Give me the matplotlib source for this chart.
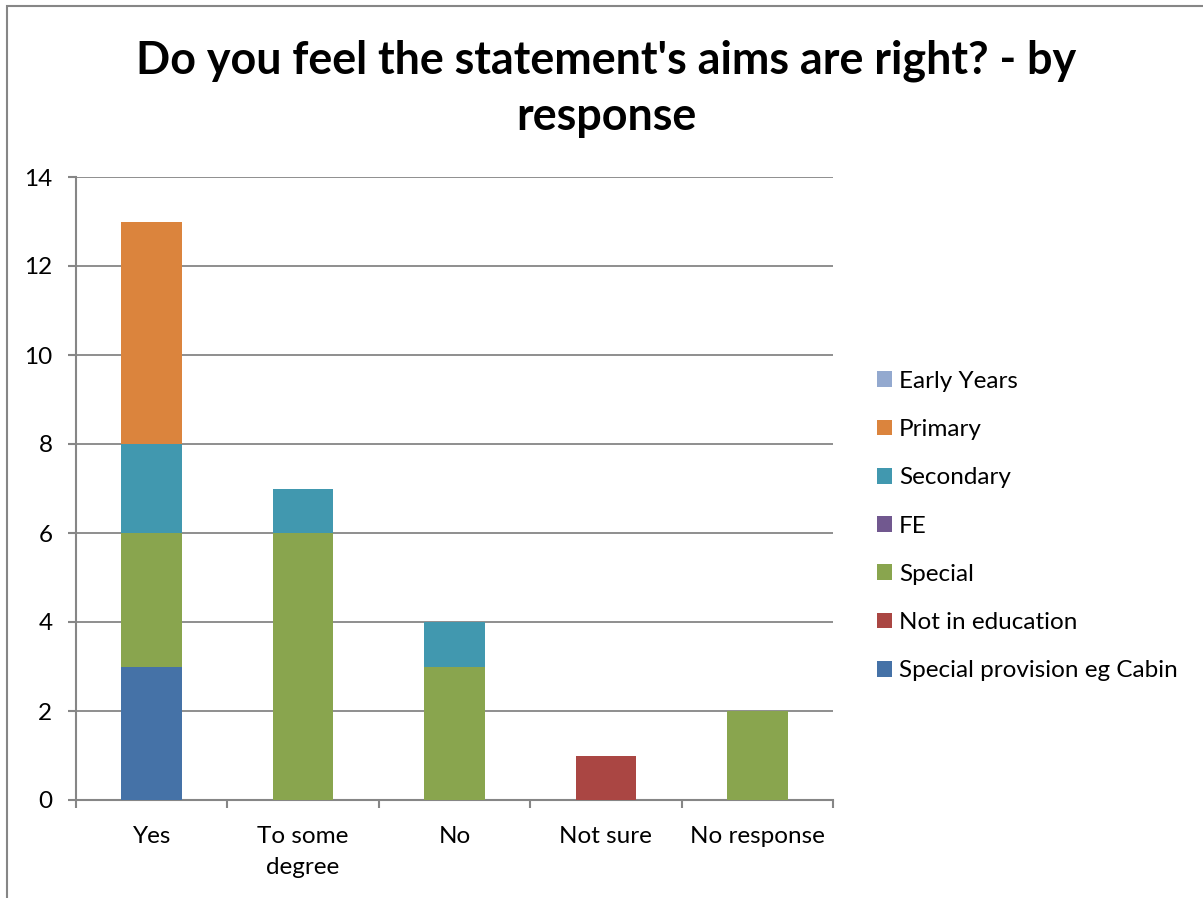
import matplotlib
matplotlib.use("Agg")
import matplotlib.pyplot as plt
from matplotlib.patches import Rectangle, Patch
import numpy as np

plt.rcParams['font.family'] = ['Lato', 'DejaVu Sans']

categories = ["Yes", "To some degree", "No", "Not sure", "No response"]
tick_labels = ["Yes", "To some\ndegree", "No", "Not sure", "No response"]

# series listed bottom-up in stacking order
series_names = ["Special provision eg Cabin", "Not in education", "Special",
                "FE", "Secondary", "Primary", "Early Years"]
special_provision = [3, 0, 0, 0, 0]
not_in_education = [0, 0, 0, 1, 0]
special = [3, 6, 3, 0, 2]
fe = [0, 0, 0, 0, 0]
secondary = [2, 1, 1, 0, 0]
primary = [5, 0, 0, 0, 0]
early_years = [0, 0, 0, 0, 0]

series_values = [special_provision, not_in_education, special, fe,
                 secondary, primary, early_years]
colors = ["#4572A7", "#AA4643", "#89A54E", "#71588F",
          "#4198AF", "#DB843D", "#93A9CF"]

W, H = 1203, 898
fig = plt.figure(figsize=(W / 100, H / 100), dpi=100)

# outer chart frame
fig.add_artist(Rectangle((7 / W, -0.05), 1.2, (H - 6) / H + 0.05,
                         transform=fig.transFigure, fill=False,
                         edgecolor="#868686", linewidth=1.5))

ax = fig.add_axes([76 / W, 98 / H, 757 / W, 623 / H])
x = np.arange(len(categories))
bottom = np.zeros(len(categories))
for name, vals, c in zip(series_names, series_values, colors):
    vals = np.array(vals, dtype=float)
    ax.bar(x, vals, width=0.4, bottom=bottom, color=c, label=name, zorder=3)
    bottom += vals

ax.set_xlim(-0.5, len(categories) - 0.5)
ax.set_ylim(0, 14)
ax.set_yticks(range(0, 15, 2))
ax.yaxis.grid(True, color="#868686", linewidth=1.3, zorder=0)
ax.set_axisbelow(True)

for s in ["top", "right"]:
    ax.spines[s].set_visible(False)
for s in ["left", "bottom"]:
    ax.spines[s].set_color("#868686")
    ax.spines[s].set_linewidth(1.5)

ax.set_xticks(x)
ax.set_xticklabels(tick_labels, fontsize=17.5, linespacing=1.55)
ax.tick_params(axis="x", length=0, pad=19)
ax.set_xticks(np.arange(-0.5, len(categories)), minor=True)
ax.tick_params(axis="x", which="minor", length=6, width=1.5, color="#868686")
ax.tick_params(axis="y", length=6, width=1.5, color="#868686",
               labelsize=17.5, pad=11)

fig.text(606 / W, 1 - 89 / H,
         "Do you feel the statement's aims are right? - by\nresponse",
         ha="center", va="center", fontsize=32.3, fontweight="bold",
         linespacing=1.42)

handles = [Patch(facecolor=c, edgecolor="none") for c in colors][::-1]
labels = series_names[::-1]
fig.legend(handles, labels, loc="upper left",
           bbox_to_anchor=(855 / W, 1 - 349 / H), frameon=False,
           fontsize=17.5, handlelength=0.62, handleheight=0.62,
           handletextpad=0.3, labelspacing=1.12)

fig.savefig("out.png", dpi=100)
